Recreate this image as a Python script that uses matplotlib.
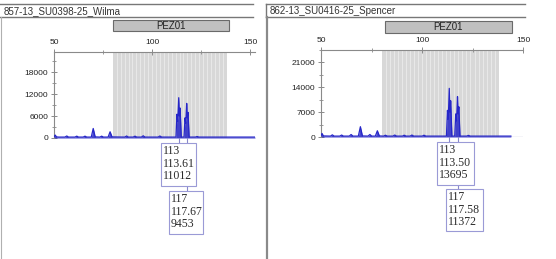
import matplotlib
matplotlib.use('Agg')
import matplotlib.pyplot as plt
from matplotlib.patches import Rectangle
from matplotlib.lines import Line2D

# ---- data ----
names = ['857-13_SU0398-25_Wilma', '862-13_SU0416-25_Spencer']
marker = 'PEZ01'
bin_range = (80, 138)

# Wilma trace (bp, rfu)
wilma_x = [50, 50.6, 51.3, 52.5, 55.6, 56.5, 57.4, 60.7, 61.6, 62.5, 64.9, 65.8, 66.7,
           69.0, 70.0, 71.0, 73.4, 74.3, 75.2, 77.6, 78.6, 79.6, 86.1, 87.0, 87.9,
           90.4, 91.3, 92.2, 94.6, 95.5, 96.4, 103.1, 104.0, 104.9,
           112.2, 112.7, 113.1, 113.61, 113.9, 114.3, 114.9,
           116.3, 116.8, 117.2, 117.67, 117.95, 118.35, 118.9,
           122.1, 123.0, 123.9, 152.5]
wilma_y = [300, 800, 300, 250, 250, 550, 250, 250, 500, 250, 250, 500, 250,
           250, 2600, 300, 250, 500, 250, 250, 1700, 300, 250, 550, 250,
           250, 500, 250, 250, 600, 250, 250, 550, 250,
           250, 6500, 4500, 11012, 6000, 8200, 250,
           250, 5500, 4000, 9453, 5500, 7000, 250,
           250, 400, 250, 250]
wilma_calls = [('113', '113.61', '11012'), ('117', '117.67', '9453')]
wilma_peaks = [113.61, 117.67]

# Spencer trace (bp, rfu)
spencer_x = [50, 50.5, 51.2, 54.7, 55.6, 56.5, 59.3, 60.2, 61.1, 64.0, 64.9, 65.8,
             68.5, 69.5, 70.5, 73.3, 74.2, 75.1, 76.9, 77.9, 78.9, 81.0, 81.9, 82.8,
             85.6, 86.5, 87.4, 90.3, 91.2, 92.1, 94.1, 95.0, 95.9, 100.1, 101.0, 101.9,
             112.1, 112.6, 113.0, 113.50, 113.8, 114.2, 114.8,
             116.2, 116.7, 117.1, 117.58, 117.85, 118.25, 118.8,
             122.1, 123.0, 123.9, 144]
spencer_y = [300, 1000, 300, 250, 600, 250, 250, 550, 250, 250, 700, 250,
             250, 2900, 300, 250, 700, 250, 250, 1750, 300, 250, 500, 250,
             250, 550, 250, 250, 500, 250, 250, 550, 250, 250, 500, 250,
             250, 7500, 5000, 13695, 7000, 10200, 250,
             250, 6500, 4500, 11372, 6500, 8500, 250,
             250, 450, 250, 250]
spencer_calls = [('113', '113.50', '13695'), ('117', '117.58', '11372')]
spencer_peaks = [113.50, 117.58]

W, H = 556, 259
fig = plt.figure(figsize=(W / 100, H / 100), dpi=100)
fig.patch.set_facecolor('white')


def fx(x):
	return x / W


def fy(y):
	return 1 - y / H


sans = 'Liberation Sans'
serif = 'Liberation Serif'
blue = '#2626c8'
frame_c = '#8a8a8a'


def panel(box, xlim, ylim, yticks, ystep, x, y, peaks, calls, name, title_box, marker_box, call_boxes, border_left):
	l, t, r, b = box
	ax = fig.add_axes([fx(l), fy(b), fx(r - l), (b - t) / H])
	ax.set_xlim(*xlim)
	ax.set_ylim(*ylim)
	# bin shading with fine light stripes
	ax.axvspan(bin_range[0], bin_range[1], color='#d8d8d8', lw=0, zorder=0)
	for v in range(bin_range[0] + 2, bin_range[1], 2):
		ax.axvline(v, color='#efefef', lw=0.5, zorder=0.5)
	ax.fill_between(x, y, 0, color=blue, lw=0, alpha=0.85, zorder=2)
	ax.plot(x, y, color=blue, lw=0.9, zorder=3)
	ax.axhline(0, color='#3a3a8a', lw=0.8, zorder=3)
	for s in ['right', 'bottom']:
		ax.spines[s].set_visible(False)
	for s in ['left', 'top']:
		ax.spines[s].set_color(frame_c)
		ax.spines[s].set_linewidth(0.8)
	ax.xaxis.tick_top()
	ax.set_xticks([50, 100, 150])
	ax.set_xticks([75, 125], minor=True)
	ax.set_yticks(yticks)
	ax.set_yticks([ystep * k for k in range(int(ylim[1] // ystep) + 1)], minor=True)
	ax.set_yticklabels([str(v) for v in yticks])
	ax.tick_params(which='both', direction='inout', colors=frame_c, labelcolor='#222222',
	               labelsize=6, pad=2)
	ax.tick_params(which='major', length=4, width=0.7)
	ax.tick_params(which='minor', length=2.5, width=0.6)
	for lab in ax.get_xticklabels() + ax.get_yticklabels():
		lab.set_family(sans)

	# title bar
	tl, tt, tr, tb = title_box
	fig.add_artist(Line2D([fx(tl), fx(tr)], [fy(tt), fy(tt)], color='#777777', lw=1.0))
	fig.add_artist(Line2D([fx(tl), fx(tr)], [fy(tb), fy(tb)], color='#777777', lw=1.0))
	if border_left:
		fig.add_artist(Line2D([fx(tl), fx(tl)], [fy(tt), fy(tb)], color='#777777', lw=1.0))
	fig.text(fx(tl + 4), fy((tt + tb) / 2 + 0.5), name, fontsize=7, family=sans,
	         color='#333333', va='center', ha='left')

	# marker box
	ml, mt, mr, mb = marker_box
	fig.add_artist(Rectangle((fx(ml), fy(mb)), fx(mr - ml), (mb - mt) / H,
	                         facecolor='#c0c0c0', edgecolor='#6a6a6a', lw=0.8))
	fig.text(fx((ml + mr) / 2), fy((mt + mb) / 2 + 0.5), marker, fontsize=7, family=sans,
	         color='#222222', ha='center', va='center')

	# peak call boxes with connector lines
	inv = fig.transFigure.inverted()
	for pk, cb in zip(peaks, call_boxes):
		px_fig = inv.transform(ax.transData.transform((pk, 0)))[0]
		fig.add_artist(Line2D([px_fig, px_fig], [fy(b), fy(cb[1])], color='#8888cc', lw=0.8, zorder=1))
	for lab, cb in zip(calls, call_boxes):
		bl, bt, br, bb = cb
		fig.add_artist(Rectangle((fx(bl), fy(bb)), fx(br - bl), (bb - bt) / H,
		                         facecolor='white', edgecolor='#9a9ad6', lw=0.8, zorder=2))
		fig.text(fx(bl + 2), fy(bt + 2), '\n'.join(lab), fontsize=8.5, family=serif,
		         color='#2a2a2a', ha='left', va='top', linespacing=1.06, zorder=3)
	return ax


panel((54, 52, 255, 138), (50, 152.5), (0, 23500), [0, 6000, 12000, 18000], 3000,
      wilma_x, wilma_y, wilma_peaks, wilma_calls, names[0],
      (0, 4, 253, 17), (113, 20, 229, 31),
      [(161, 143, 196, 186), (169, 191, 203, 234)], False)
panel((321, 50, 523, 137), (50, 144), (0, 24500), [0, 7000, 14000, 21000], 3500,
      spencer_x, spencer_y, spencer_peaks, spencer_calls, names[1],
      (266, 4, 525, 17), (385, 21, 512, 33),
      [(437, 142, 474, 185), (446, 189, 483, 231)], True)

# panel borders
fig.add_artist(Line2D([fx(267), fx(267)], [fy(17), 0], color=frame_c, lw=1.6))
fig.add_artist(Line2D([fx(1), fx(1)], [fy(17), 0], color='#b0b0b0', lw=0.8))

fig.savefig('out.png', dpi=100)
